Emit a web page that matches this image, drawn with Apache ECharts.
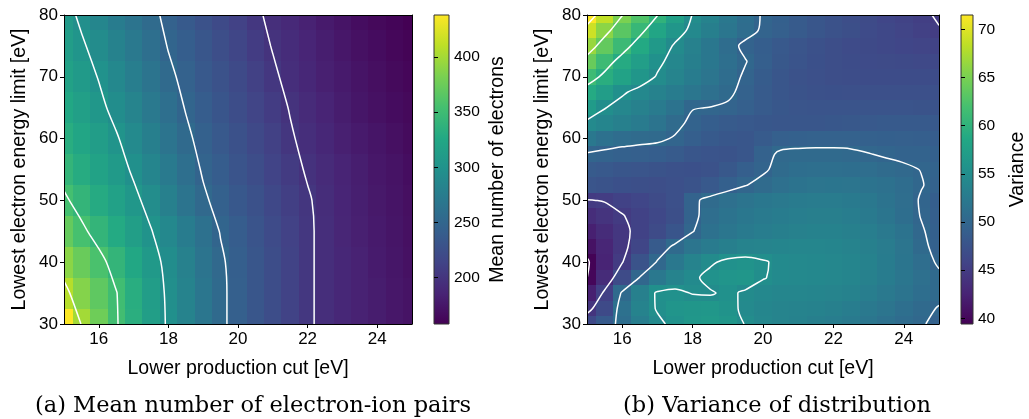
<!DOCTYPE html>
<html><head><meta charset="utf-8">
<script src="https://cdn.jsdelivr.net/npm/echarts@6/dist/echarts.min.js"></script>
<style>html,body{margin:0;padding:0;background:#fff}#c{width:1029px;height:419px}</style>
</head><body><div id="c"></div>
<script>
// ---------- data ----------
const xCuts = [15, 15.5, 16, 16.5, 17, 17.5, 18, 18.5, 19, 19.5, 20, 20.5, 21, 21.5, 22, 22.5, 23, 23.5, 24, 24.5, 25];
const meanLimits = [30, 35, 40, 45, 50, 55, 60, 65, 70, 75, 80];
const varLimits = [30, 32.5, 35, 37.5, 40, 42.5, 45, 47.5, 50, 52.5, 55, 57.5, 60, 62.5, 65, 67.5, 70, 72.5, 75, 77.5, 80];

// mean number of electrons, one row per lowest-energy limit (30 ... 80)
const meanElectrons = [
  [437, 399, 376, 352, 333, 314, 297, 282, 268, 254, 243, 233, 223, 213, 203, 195, 189, 184, 180, 176, 172],
  [407, 386, 368, 351, 332, 313, 296, 282, 268, 254, 243, 233, 223, 213, 203, 195, 189, 184, 180, 176, 172],
  [389, 373, 357, 341, 325, 308, 294, 280, 266, 253, 242, 233, 223, 213, 203, 195, 189, 184, 179, 175, 171],
  [371, 355, 341, 328, 314, 301, 288, 275, 262, 249, 240, 231, 221, 212, 203, 195, 188, 183, 178, 174, 170],
  [354, 341, 329, 317, 305, 293, 279, 266, 253, 244, 235, 227, 218, 210, 202, 194, 187, 182, 177, 173, 169],
  [341, 330, 319, 309, 297, 285, 272, 260, 248, 240, 231, 223, 214, 206, 198, 192, 186, 181, 176, 172, 168],
  [332, 322, 312, 302, 290, 278, 266, 254, 244, 236, 227, 219, 211, 202, 195, 189, 183, 178, 174, 170, 166],
  [325, 315, 305, 294, 283, 271, 260, 249, 240, 232, 223, 215, 207, 199, 192, 186, 180, 175, 171, 167, 164],
  [318, 309, 299, 288, 277, 265, 254, 245, 236, 228, 220, 211, 203, 195, 189, 183, 178, 173, 169, 165, 162],
  [313, 303, 292, 281, 271, 260, 249, 241, 233, 224, 216, 207, 199, 193, 187, 181, 176, 171, 167, 163, 160],
  [308, 296, 286, 275, 265, 255, 245, 237, 229, 220, 212, 203, 196, 190, 184, 178, 173, 168, 164, 161, 158]
];

// variance, one row per lowest-energy limit (30 ... 80, step 2.5)
const varianceValues = [
  [46.4, 48.4, 51.0, 53.0, 54.5, 55.6, 56.3, 56.6, 56.2, 54.9, 54.2, 53.8, 53.5, 53.2, 52.9, 52.5, 52.0, 51.4, 50.7, 50.2, 49.4],
  [44.3, 46.5, 51.4, 53.6, 55.2, 56.0, 56.2, 56.3, 55.7, 54.5, 54.0, 53.8, 53.6, 53.5, 53.3, 52.9, 52.4, 51.8, 51.1, 50.4, 49.9],
  [42.2, 45.4, 50.4, 53.3, 55.3, 55.5, 54.9, 54.8, 55.4, 54.7, 54.3, 54.1, 54.0, 53.9, 53.8, 53.5, 53.0, 52.4, 51.7, 51.0, 50.4],
  [39.95, 43.4, 46.6, 50.1, 52.3, 53.6, 54.6, 55.6, 56.0, 56.1, 55.1, 54.6, 54.4, 54.3, 54.2, 53.9, 53.4, 52.8, 52.0, 51.2, 50.4],
  [39.6, 42.6, 44.9, 47.6, 50.2, 52.2, 53.6, 54.7, 55.5, 55.7, 55.2, 54.6, 54.4, 54.3, 54.2, 53.9, 53.5, 52.8, 51.9, 50.9, 49.7],
  [41.0, 42.8, 44.5, 46.0, 48.6, 50.5, 51.8, 52.6, 53.2, 53.6, 53.8, 53.9, 54.0, 54.0, 53.9, 53.7, 53.3, 52.7, 51.8, 50.5, 49.3],
  [42.2, 43.4, 44.5, 45.6, 46.6, 47.9, 49.9, 51.3, 52.0, 52.5, 52.9, 53.2, 53.4, 53.5, 53.5, 53.3, 53.0, 52.4, 51.6, 50.2, 49.2],
  [43.5, 44.2, 44.9, 45.6, 46.3, 47.1, 49.5, 50.9, 51.6, 52.1, 52.5, 52.8, 53.0, 53.1, 53.1, 52.9, 52.5, 51.9, 51.0, 49.9, 49.0],
  [44.9, 45.1, 45.6, 46.1, 46.6, 47.2, 49.6, 50.6, 51.2, 51.7, 52.1, 52.4, 52.6, 52.7, 52.7, 52.5, 52.2, 51.6, 50.9, 49.8, 48.9],
  [47.8, 47.6, 47.3, 47.1, 47.0, 47.2, 47.6, 48.3, 49.2, 49.9, 50.6, 51.2, 51.6, 51.8, 51.9, 51.8, 51.6, 51.3, 50.8, 50.1, 49.4],
  [48.5, 48.3, 48.0, 47.8, 47.6, 47.4, 47.3, 47.5, 48.2, 49.0, 49.7, 50.6, 51.0, 51.1, 51.1, 51.0, 50.9, 50.6, 50.3, 49.95, 49.6],
  [49.8, 49.5, 49.3, 49.1, 48.9, 48.5, 48.0, 47.7, 47.6, 48.0, 49.4, 50.3, 50.4, 50.4, 50.4, 50.3, 50.05, 49.8, 49.6, 49.5, 49.2],
  [52.2, 51.3, 50.8, 50.6, 50.4, 49.8, 49.0, 48.4, 48.1, 48.0, 48.5, 49.1, 49.3, 49.4, 49.4, 49.4, 49.3, 49.2, 49.1, 49.0, 48.8],
  [54.5, 53.9, 53.3, 52.6, 51.7, 50.6, 49.5, 48.9, 48.6, 48.3, 48.1, 48.0, 48.0, 48.0, 48.1, 48.2, 48.3, 48.4, 48.4, 48.4, 48.3],
  [56.8, 55.1, 54.2, 53.4, 52.6, 51.6, 50.1, 49.95, 49.7, 49.1, 48.5, 48.1, 47.8, 47.7, 47.7, 47.7, 47.7, 47.7, 47.7, 47.6, 47.6],
  [58.9, 57.1, 55.3, 54.3, 53.5, 52.8, 52.0, 51.2, 50.4, 49.4, 48.6, 48.0, 47.6, 47.4, 47.3, 47.2, 47.2, 47.2, 47.2, 47.2, 47.2],
  [61.3, 59.4, 57.8, 56.2, 54.8, 53.8, 52.8, 51.8, 50.8, 49.7, 48.7, 48.0, 47.5, 47.2, 47.0, 46.9, 46.8, 46.8, 46.8, 46.8, 46.8],
  [64.0, 61.2, 59.0, 57.2, 55.5, 54.2, 53.2, 52.1, 51.1, 50.1, 49.0, 48.2, 47.7, 47.3, 47.0, 46.8, 46.7, 46.6, 46.5, 46.4, 46.3],
  [66.5, 63.7, 61.1, 58.8, 56.6, 54.7, 53.4, 52.1, 50.8, 49.5, 48.9, 48.3, 47.8, 47.4, 47.0, 46.7, 46.5, 46.3, 46.1, 45.9, 45.7],
  [69.1, 65.9, 63.2, 60.7, 58.3, 56.1, 54.4, 53.2, 52.0, 50.8, 49.7, 49.1, 48.5, 48.0, 47.5, 47.1, 46.7, 46.3, 45.9, 45.5, 45.1],
  [71.6, 68.5, 65.1, 62.6, 60.1, 57.5, 54.9, 53.6, 52.3, 51.0, 49.8, 49.2, 48.6, 48.0, 47.5, 47.0, 46.6, 46.1, 45.7, 45.3, 44.8]
];

const xTicks = [16, 18, 20, 22, 24];
const yTicks = [30, 40, 50, 60, 70, 80];
const meanBarTicks = [200, 250, 300, 350, 400];
const varBarTicks = [40, 45, 50, 55, 60, 65, 70];
const meanLevels = [200, 250, 300, 350, 400];
const varLevels = [40, 45, 50, 55, 60, 65, 70];
const meanRange = [158, 438];
const varRange = [39.4, 71.5];

const xTitle = 'Lower production cut [eV]';
const yTitle = 'Lowest electron energy limit [eV]';
const meanBarTitle = 'Mean number of electrons';
const varBarTitle = 'Variance';
const captionA = '(a) Mean number of electron-ion pairs';
const captionB = '(b) Variance of distribution';

const viridis = ['#440154', '#482475', '#414487', '#355f8d', '#2a788e', '#21918c', '#22a884', '#44bf70', '#7ad151', '#bddf26', '#fde725'];

// ---------- helpers ----------
const FONT = '"Liberation Sans", Arial, sans-serif';

function gridData(xs, ys, rows) {
  const out = [];
  for (let j = 0; j < ys.length; j++)
    for (let i = 0; i < xs.length; i++) out.push([xs[i], ys[j], rows[j][i]]);
  return out;
}

function cellRenderer(hx, hy) {
  return function (params, api) {
    const x = api.value(0), y = api.value(1);
    const a = api.coord([x - hx, y + hy]);
    const b = api.coord([x + hx, y - hy]);
    const cs = params.coordSys;
    const x0 = Math.max(Math.round(a[0]), Math.round(cs.x));
    const x1 = Math.min(Math.round(b[0]), Math.round(cs.x + cs.width));
    const y0 = Math.max(Math.round(a[1]), Math.round(cs.y));
    const y1 = Math.min(Math.round(b[1]), Math.round(cs.y + cs.height));
    return { type: 'rect', silent: true,
      shape: { x: x0, y: y0, width: x1 - x0, height: y1 - y0 },
      style: { fill: api.visual('color') } };
  };
}

// marching squares -> chained polylines in data coordinates
function contourLines(xs, ys, rows, level) {
  const nx = xs.length, ny = ys.length;
  const v = (i, j) => rows[j][i];
  const pts = {};
  function edge(type, i, j) {
    const key = type + ',' + i + ',' + j;
    if (!pts[key]) {
      if (type === 'h') {
        const a = v(i, j), b = v(i + 1, j), t = (level - a) / (b - a);
        pts[key] = [xs[i] + t * (xs[i + 1] - xs[i]), ys[j]];
      } else {
        const a = v(i, j), b = v(i, j + 1), t = (level - a) / (b - a);
        pts[key] = [xs[i], ys[j] + t * (ys[j + 1] - ys[j])];
      }
    }
    return key;
  }
  const segs = [];
  for (let j = 0; j < ny - 1; j++) {
    for (let i = 0; i < nx - 1; i++) {
      const bl = v(i, j) > level, br = v(i + 1, j) > level, tr = v(i + 1, j + 1) > level, tl = v(i, j + 1) > level;
      const cross = [];
      if (bl !== br) cross.push(edge('h', i, j));
      if (br !== tr) cross.push(edge('v', i + 1, j));
      if (tl !== tr) cross.push(edge('h', i, j + 1));
      if (bl !== tl) cross.push(edge('v', i, j));
      if (cross.length === 2) segs.push([cross[0], cross[1]]);
      else if (cross.length === 4) {
        const bottom = edge('h', i, j), right = edge('v', i + 1, j), top = edge('h', i, j + 1), left = edge('v', i, j);
        const c = (v(i, j) + v(i + 1, j) + v(i + 1, j + 1) + v(i, j + 1)) / 4 > level;
        if ((bl && c) || (!bl && !c)) { segs.push([bottom, right]); segs.push([top, left]); }
        else { segs.push([left, bottom]); segs.push([top, right]); }
      }
    }
  }
  const byKey = {};
  segs.forEach((s, k) => { s.forEach(e => { (byKey[e] = byKey[e] || []).push(k); }); });
  const used = new Array(segs.length).fill(false);
  const lines = [];
  for (let k = 0; k < segs.length; k++) {
    if (used[k]) continue;
    used[k] = true;
    const chain = [segs[k][0], segs[k][1]];
    for (let dir = 0; dir < 2; dir++) {
      let going = true;
      while (going) {
        going = false;
        const end = dir === 0 ? chain[chain.length - 1] : chain[0];
        for (const n of byKey[end] || []) {
          if (used[n]) continue;
          used[n] = true;
          const other = segs[n][0] === end ? segs[n][1] : segs[n][0];
          if (dir === 0) chain.push(other); else chain.unshift(other);
          going = true;
          break;
        }
      }
    }
    lines.push(chain.map(e => pts[e]));
  }
  return lines;
}

function contourSeries(xs, ys, rows, levels, axisIndex) {
  const out = [];
  levels.forEach(lv => {
    contourLines(xs, ys, rows, lv).forEach(line => {
      out.push({ type: 'line', xAxisIndex: axisIndex, yAxisIndex: axisIndex, data: line,
        symbol: 'none', showSymbol: false, smooth: 0.3, silent: true, animation: false, clip: true, z: 5,
        lineStyle: { color: '#ffffff', width: 1.5 }, emphasis: { disabled: true } });
    });
  });
  return out;
}

function colorbarRenderer(params) {
  const cs = params.coordSys;
  return { type: 'rect', silent: true,
    shape: { x: cs.x, y: cs.y, width: cs.width, height: cs.height },
    style: { fill: new echarts.graphic.LinearGradient(0, 1, 0, 0,
      viridis.map((c, i) => ({ offset: i / (viridis.length - 1), color: c }))),
      stroke: '#333', lineWidth: 1 } };
}

const tickText = { fontSize: 17, color: '#000', fontFamily: FONT };
const barTickText = { fontSize: 15.5, color: '#000', fontFamily: FONT };
const nameText = { fontSize: 19.5, color: '#000', fontFamily: FONT };

function mainX(grid) {
  return [
    { gridIndex: grid, type: 'value', min: 15, max: 25, position: 'bottom', z: 10,
      axisLine: { show: true, onZero: false, lineStyle: { color: '#000', width: 1 } },
      axisTick: { show: true, length: 4, lineStyle: { color: '#000' }, customValues: xTicks },
      axisLabel: { show: true, margin: 7, customValues: xTicks, ...tickText },
      splitLine: { show: false },
      name: xTitle, nameLocation: 'middle', nameGap: 35, nameTextStyle: nameText },
    { gridIndex: grid, type: 'value', min: 15, max: 25, position: 'top', z: 10,
      axisLine: { show: true, onZero: false, lineStyle: { color: '#000', width: 1 } },
      axisTick: { show: false }, axisLabel: { show: false }, splitLine: { show: false } }
  ];
}
function mainY(grid) {
  return [
    { gridIndex: grid, type: 'value', min: 30, max: 80, interval: 10, position: 'left', z: 10,
      axisLine: { show: true, onZero: false, lineStyle: { color: '#000', width: 1 } },
      axisTick: { show: true, length: 4, lineStyle: { color: '#000' }, customValues: yTicks },
      axisLabel: { show: true, margin: 6, customValues: yTicks, ...tickText },
      splitLine: { show: false },
      name: yTitle, nameLocation: 'middle', nameGap: 34, nameTextStyle: nameText },
    { gridIndex: grid, type: 'value', min: 30, max: 80, position: 'right', z: 10,
      axisLine: { show: true, onZero: false, lineStyle: { color: '#000', width: 1 } },
      axisTick: { show: false }, axisLabel: { show: false }, splitLine: { show: false } }
  ];
}
function barY(grid, range, ticks, title, gap) {
  return { gridIndex: grid, type: 'value', min: range[0], max: range[1], position: 'right', z: 10,
    axisLine: { show: false },
    axisTick: { show: true, length: 4, lineStyle: { color: '#000' }, customValues: ticks },
    axisLabel: { show: true, margin: 5, customValues: ticks, ...barTickText },
    splitLine: { show: false },
    name: title, nameLocation: 'middle', nameGap: gap, nameTextStyle: nameText };
}

const option = {
  animation: false,
  backgroundColor: '#ffffff',
  grid: [
    { left: 64, top: 15, width: 348, height: 309 },
    { left: 434, top: 15, width: 15, height: 309 },
    { left: 587, top: 15, width: 352, height: 309 },
    { left: 961, top: 15, width: 15, height: 309 }
  ],
  xAxis: [
    ...mainX(0),
    { gridIndex: 1, type: 'value', min: 0, max: 1, show: false },
    ...mainX(2),
    { gridIndex: 3, type: 'value', min: 0, max: 1, show: false }
  ],
  yAxis: [
    ...mainY(0),
    barY(1, meanRange, meanBarTicks, meanBarTitle, 39),
    ...mainY(2),
    barY(3, varRange, varBarTicks, varBarTitle, 35)
  ],
  visualMap: [
    { type: 'continuous', show: false, min: meanRange[0], max: meanRange[1], dimension: 2, seriesIndex: 0, inRange: { color: viridis } },
    { type: 'continuous', show: false, min: varRange[0], max: varRange[1], dimension: 2, seriesIndex: 1, inRange: { color: viridis } }
  ],
  series: [
    { type: 'custom', xAxisIndex: 0, yAxisIndex: 0, renderItem: cellRenderer(0.25, 2.5),
      data: gridData(xCuts, meanLimits, meanElectrons), encode: { x: 0, y: 1 }, z: 1, silent: true },
    { type: 'custom', xAxisIndex: 3, yAxisIndex: 3, renderItem: cellRenderer(0.25, 1.25),
      data: gridData(xCuts, varLimits, varianceValues), encode: { x: 0, y: 1 }, z: 1, silent: true },
    { type: 'custom', xAxisIndex: 2, yAxisIndex: 2, renderItem: colorbarRenderer,
      data: [[0.5, meanRange[0]]], encode: { x: 0, y: 1 }, silent: true },
    { type: 'custom', xAxisIndex: 5, yAxisIndex: 5, renderItem: colorbarRenderer,
      data: [[0.5, varRange[0]]], encode: { x: 0, y: 1 }, silent: true },
    ...contourSeries(xCuts, meanLimits, meanElectrons, meanLevels, 0),
    ...contourSeries(xCuts, varLimits, varianceValues, varLevels, 3)
  ],
  graphic: [
    { type: 'text', x: 253, y: 406, silent: true,
      style: { text: captionA, font: '22.5px "DejaVu Serif", serif', fill: '#000',
        textAlign: 'center', textVerticalAlign: 'middle', align: 'center', verticalAlign: 'middle' } },
    { type: 'text', x: 777, y: 406, silent: true,
      style: { text: captionB, font: '22.5px "DejaVu Serif", serif', fill: '#000',
        textAlign: 'center', textVerticalAlign: 'middle', align: 'center', verticalAlign: 'middle' } }
  ]
};

const chart = echarts.init(document.getElementById('c'), null, { renderer: 'canvas' });
chart.setOption(option);
</script>
</body></html>
